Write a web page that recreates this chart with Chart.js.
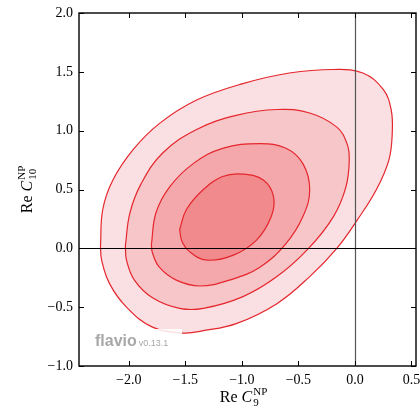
<!DOCTYPE html>
<html lang="en">
<head>
<meta charset="UTF-8">
<title>flavio - Re C9 vs Re C10</title>
<script src="https://cdn.jsdelivr.net/npm/chart.js"></script>
<style>
    html, body { margin: 0; padding: 0; background: #fff; }
    #wrap { width: 420px; height: 410px; }
</style>
</head>
<body>
<div id="wrap"><canvas id="contourChart" width="420" height="410"></canvas></div>
<script>
// contour lines, outer -> inner (Re C9, Re C10)
const c9Level1  = [-2.25, -2.23, -2.14, -1.96, -1.73, -1.40, -0.99, -0.58, -0.19, 0.07, 0.25, 0.32, 0.33, 0.30, 0.19, 0.02, -0.16, -0.40, -0.69, -1.05, -1.34, -1.52, -1.79, -2.02, -2.17, -2.24];
const c10Level1 = [0.02, 0.33, 0.58, 0.84, 1.06, 1.26, 1.40, 1.49, 1.52, 1.49, 1.35, 1.18, 0.98, 0.75, 0.50, 0.24, 0.00, -0.24, -0.47, -0.64, -0.70, -0.72, -0.67, -0.50, -0.30, -0.10];

const c9Level2  = [-2.03, -1.99, -1.89, -1.70, -1.40, -1.05, -0.69, -0.40, -0.16, -0.07, -0.05, -0.08, -0.19, -0.41, -0.69, -0.99, -1.34, -1.55, -1.79, -1.95, -2.02];
const c10Level2 = [0.02, 0.30, 0.55, 0.81, 1.01, 1.13, 1.18, 1.15, 1.03, 0.89, 0.75, 0.52, 0.27, 0.00, -0.24, -0.41, -0.51, -0.51, -0.42, -0.27, -0.10];

const c9Level3  = [-1.80, -1.76, -1.64, -1.43, -1.17, -0.84, -0.61, -0.46, -0.40, -0.46, -0.61, -0.84, -1.11, -1.37, -1.58, -1.73, -1.79];
const c10Level3 = [0.03, 0.30, 0.52, 0.72, 0.85, 0.89, 0.85, 0.72, 0.50, 0.27, 0.04, -0.16, -0.27, -0.32, -0.27, -0.16, -0.04];

const c9Level4  = [-1.55, -1.49, -1.34, -1.17, -0.99, -0.81, -0.72, -0.74, -0.87, -1.08, -1.31, -1.46, -1.53];
const c10Level4 = [0.16, 0.33, 0.50, 0.61, 0.63, 0.58, 0.44, 0.27, 0.07, -0.06, -0.10, -0.03, 0.06];

const xTicks = [-2.0, -1.5, -1.0, -0.5, 0.0, 0.5];
const yTicks = [-1.0, -0.5, 0.0, 0.5, 1.0, 1.5, 2.0];
const xRange = [-2.44, 0.54];
const yRange = [-1.0, 2.0];

const fills = ['#fae0e2', '#f7c6c8', '#f4a8ab', '#f08a8c'];
const lineRed = '#e5262d';

function closedLoop(xs, ys) {
    const pts = xs.map((x, i) => ({ x: x, y: ys[i] }));
    pts.push(pts[0]);
    return pts;
}

function tickText(v) {
    return (v < 0 ? '\u2212' : '') + Math.abs(v).toFixed(1);
}

const levels = [[c9Level1, c10Level1], [c9Level2, c10Level2], [c9Level3, c10Level3], [c9Level4, c10Level4]];
const datasets = levels.map((lv, i) => ({
    label: 'level ' + (i + 1),
    data: closedLoop(lv[0], lv[1]),
    showLine: true,
    fill: 'shape',
    backgroundColor: fills[i],
    borderColor: lineRed,
    borderWidth: 1.2,
    tension: 0.4,
    pointRadius: 0,
    order: 4 - i   // outer drawn first
}));

// label like "Re C_9^NP" drawn at (0,0) of current transform, centred
function drawCLabel(ctx, sub) {
    const big = '16px "Liberation Serif", serif';
    const bigIt = 'italic 16px "Liberation Serif", serif';
    const small = '11px "Liberation Serif", serif';
    ctx.font = big;
    const wRe = ctx.measureText('Re ').width;
    ctx.font = bigIt;
    const wC = ctx.measureText('C').width;
    ctx.font = small;
    const wSub = ctx.measureText(sub).width;
    const wSup = ctx.measureText('NP').width;
    const total = wRe + wC + 1 + Math.max(wSub, wSup);
    let x = -total / 2;
    ctx.textAlign = 'left';
    ctx.textBaseline = 'alphabetic';
    ctx.fillStyle = '#000';
    ctx.font = big;
    ctx.fillText('Re ', x, 0);
    x += wRe;
    ctx.font = bigIt;
    ctx.fillText('C', x, 0);
    x += wC + 1;
    ctx.font = small;
    ctx.fillText(sub, x, 4);
    ctx.fillText('NP', x, -7);
}

const framePlugin = {
    id: 'frame',
    afterDatasetsDraw(chart) {
        const ctx = chart.ctx;
        const a = chart.chartArea;
        const xs = chart.scales.x, ys = chart.scales.y;
        ctx.save();

        // watermark backing box
        ctx.fillStyle = 'rgba(255,255,255,0.85)';
        ctx.fillRect(a.left + 13, a.bottom - 37, 90, 24);

        // reference lines at zero
        const x0 = Math.round(xs.getPixelForValue(0)) + 0.5;
        const y0 = Math.round(ys.getPixelForValue(0)) + 0.5;
        ctx.lineWidth = 1.2;
        ctx.strokeStyle = '#555';
        ctx.beginPath();
        ctx.moveTo(x0, a.top); ctx.lineTo(x0, a.bottom);
        ctx.stroke();
        ctx.strokeStyle = '#000';
        ctx.beginPath();
        ctx.moveTo(a.left, y0); ctx.lineTo(a.right, y0);
        ctx.stroke();

        // inward ticks on all four sides
        ctx.lineWidth = 1;
        ctx.strokeStyle = '#000';
        ctx.beginPath();
        xTicks.forEach(v => {
            const px = Math.round(xs.getPixelForValue(v)) + 0.5;
            ctx.moveTo(px, a.bottom); ctx.lineTo(px, a.bottom - 5);
            ctx.moveTo(px, a.top); ctx.lineTo(px, a.top + 5);
        });
        yTicks.forEach(v => {
            const py = Math.round(ys.getPixelForValue(v)) + 0.5;
            ctx.moveTo(a.left, py); ctx.lineTo(a.left + 5, py);
            ctx.moveTo(a.right, py); ctx.lineTo(a.right - 5, py);
        });
        ctx.stroke();

        // frame
        ctx.lineWidth = 1.4;
        ctx.strokeRect(a.left, a.top, a.right - a.left, a.bottom - a.top);

        // watermark
        ctx.textBaseline = 'alphabetic';
        ctx.textAlign = 'left';
        ctx.fillStyle = '#a8a8a8';
        ctx.font = 'bold 16px "Liberation Sans", Arial, sans-serif';
        ctx.fillText('flavio', a.left + 16, a.bottom - 20);
        const w = ctx.measureText('flavio').width;
        ctx.font = '9px "Liberation Sans", Arial, sans-serif';
        ctx.fillText('v0.13.1', a.left + 18 + w, a.bottom - 20);

        // axis titles
        ctx.save();
        ctx.translate((a.left + a.right) / 2 - 4, 402);
        drawCLabel(ctx, '9');
        ctx.restore();
        ctx.save();
        ctx.translate(32, (a.top + a.bottom) / 2);
        ctx.rotate(-Math.PI / 2);
        drawCLabel(ctx, '10');
        ctx.restore();

        ctx.restore();
    }
};

const tickFont = { family: '"Liberation Serif", serif', size: 14 };

new Chart(document.getElementById('contourChart'), {
    type: 'scatter',
    data: { datasets: datasets },
    options: {
        responsive: false,
        animation: false,
        layout: { padding: { top: 13, right: 4, left: 0, bottom: 0 } },
        plugins: {
            legend: { display: false },
            tooltip: { enabled: false }
        },
        scales: {
            x: {
                type: 'linear',
                min: xRange[0],
                max: xRange[1],
                afterBuildTicks: s => { s.ticks = xTicks.map(v => ({ value: v })); },
                afterFit: s => { s.height = 44; s.paddingLeft = 0; s.paddingRight = 0; },
                grid: { drawOnChartArea: false, drawTicks: false },
                border: { display: false },
                ticks: { color: '#000', font: tickFont, padding: 6, maxRotation: 0, callback: v => tickText(v) }
            },
            y: {
                type: 'linear',
                min: yRange[0],
                max: yRange[1],
                afterBuildTicks: s => { s.ticks = yTicks.map(v => ({ value: v })); },
                afterFit: s => { s.width = 79; s.paddingTop = 0; s.paddingBottom = 0; },
                grid: { drawOnChartArea: false, drawTicks: false },
                border: { display: false },
                ticks: { color: '#000', font: tickFont, padding: 6, callback: v => tickText(v) }
            }
        }
    },
    plugins: [framePlugin]
});
</script>
</body>
</html>
